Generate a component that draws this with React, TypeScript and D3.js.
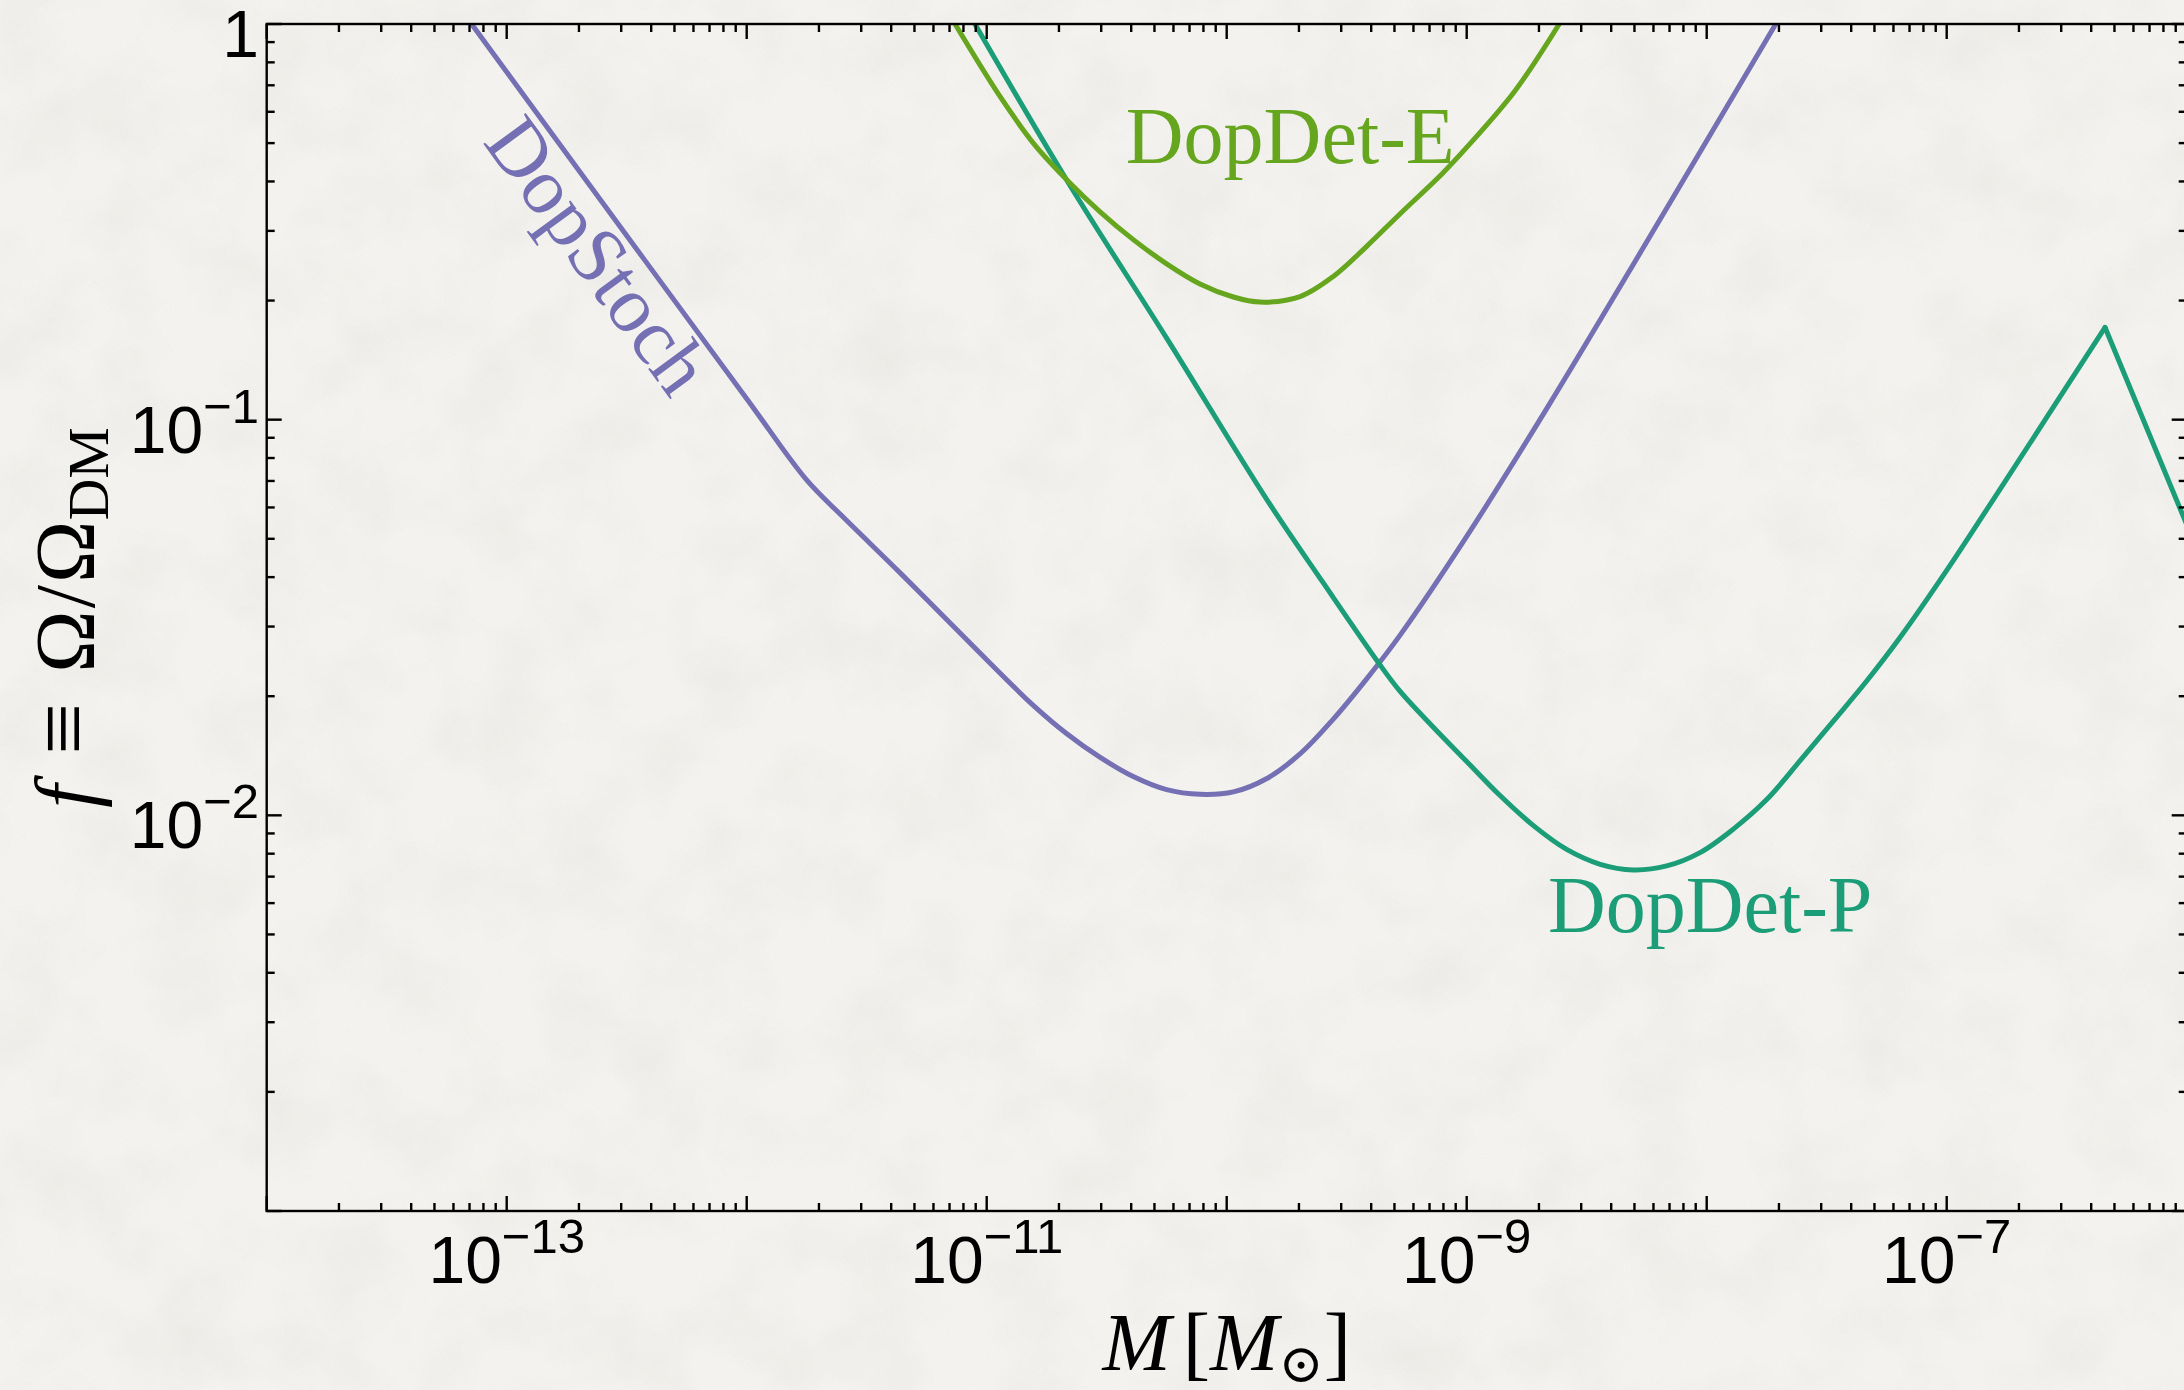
import React, { useEffect } from "react";
import * as d3 from "d3";

const WIDTH = 2184;
const HEIGHT = 1390;

// Plot frame (pixels)
const PLOT_LEFT = 266.7;
const PLOT_TOP = 24;
const PLOT_RIGHT = 2186.7;
const PLOT_BOTTOM = 1211;

// Axis extents
const massDomain: [number, number] = [1e-14, 1e-6];
const fractionDomain: [number, number] = [1e-3, 1];

// DopStoch limit: mass M [solar masses] and f = Omega / Omega_DM
const dopStochM = [
  7.14e-14, 3.16e-13, 1.0e-12, 1.78e-12, 2.51e-12, 4.36e-12, 8.26e-12, 1.135e-11,
  1.563e-11, 2.15e-11, 2.96e-11, 4.08e-11, 5.62e-11, 7.74e-11, 1.066e-10, 1.47e-10,
  2.02e-10, 2.77e-10, 3.83e-10, 5.27e-10, 1.0e-9, 2.18e-9, 1.94e-8,
];
const dopStochF = [
  1.0, 0.292, 0.113, 0.0703, 0.0569, 0.041, 0.0278, 0.0229,
  0.01897, 0.0161, 0.01403, 0.01253, 0.01161, 0.0113, 0.01146, 0.01239,
  0.01429, 0.01746, 0.02213, 0.0285, 0.0507, 0.1079, 1.0,
];

// DopDet-P limit
const dopDetPM = [
  8.93e-12, 2.15e-11, 5.62e-11, 1.47e-10, 2.51e-10, 4.29e-10, 5.27e-10, 7.26e-10,
  1.0e-9, 1.377e-9, 1.897e-9, 2.61e-9, 3.6e-9, 4.94e-9, 6.81e-9, 9.38e-9,
  1.291e-8, 1.778e-8, 2.45e-8, 3.37e-8, 4.65e-8, 6.4e-8, 1.0e-7, 1.667e-7,
  4.57e-7, 1.0e-6,
];
const dopDetPF = [
  1.0, 0.404, 0.1607, 0.0628, 0.0389, 0.0243, 0.0206, 0.0167,
  0.01368, 0.01122, 0.00942, 0.0082, 0.00752, 0.00728, 0.00745, 0.00805,
  0.00923, 0.01096, 0.01374, 0.0173, 0.02188, 0.02818, 0.04159, 0.06668,
  0.171, 0.0543,
];

// DopDet-E limit
const dopDetEM = [
  7.38e-12, 1.138e-11, 1.585e-11, 2.19e-11, 2.96e-11, 4.08e-11, 5.62e-11, 7.74e-11,
  1.066e-10, 1.377e-10, 2.02e-10, 2.78e-10, 3.83e-10, 5.27e-10, 7.94e-10, 1.0e-9,
  1.585e-9, 2.43e-9,
];
const dopDetEF = [
  1.0, 0.655, 0.495, 0.4, 0.3357, 0.2851, 0.2477, 0.2203,
  0.2042, 0.1982, 0.2046, 0.2301, 0.2742, 0.3311, 0.4198, 0.4875,
  0.6761, 1.0,
];

// Labelled decades
const xLabelExponents = [-13, -11, -9, -7];
const yLabelExponents = [0, -1, -2];

// Curve names and where their labels sit (M, f, rotation in degrees)
const curveNames = ["DopStoch", "DopDet-P", "DopDet-E"];
const curveColors = ["#7570b3", "#1b9e77", "#66a61e"];
const labelAnchorM = [7.89e-14, 2.18e-9, 3.8e-11];
const labelAnchorF = [0.5035, 0.00507, 0.4457];
const labelAngle = [53.8, 0, 0];

const SANS = "'Liberation Sans', Arial, Helvetica, sans-serif";
const SERIF = "'Liberation Serif', 'Times New Roman', 'DejaVu Serif', serif";

const zip = (xs: number[], ys: number[]): [number, number][] =>
  xs.map((x, i) => [x, ys[i]] as [number, number]);

const isDecade = (v: number) => Math.abs(Math.log10(v) - Math.round(Math.log10(v))) < 1e-6;

const minus = (n: number) => (n < 0 ? "\u2212" + Math.abs(n) : String(n));

export default function App() {
  useEffect(() => {
    document.body.style.margin = "0";
    document.body.style.overflow = "hidden";
  }, []);

  const x = d3.scaleLog().domain(massDomain).range([PLOT_LEFT, PLOT_RIGHT]);
  const y = d3.scaleLog().domain(fractionDomain).range([PLOT_BOTTOM, PLOT_TOP]);

  const line = d3
    .line<[number, number]>()
    .x((d) => x(d[0]))
    .y((d) => y(d[1]))
    .curve(d3.curveCatmullRom.alpha(0.5));

  const stoch = zip(dopStochM, dopStochF);
  const detP = zip(dopDetPM, dopDetPF);
  const detE = zip(dopDetEM, dopDetEF);

  // DopDet-P has a cusp; draw each side of it separately so it stays sharp
  let cusp = detP.length - 1;
  for (let i = 1; i < detP.length - 1; i++) {
    if (detP[i][1] > detP[i - 1][1] && detP[i][1] > detP[i + 1][1]) cusp = i;
  }
  const paths: { d: string; color: string }[] = [
    { d: line(stoch) || "", color: curveColors[0] },
    { d: line(detP.slice(0, cusp + 1)) || "", color: curveColors[1] },
    { d: line(detP.slice(cusp)) || "", color: curveColors[1] },
    { d: line(detE) || "", color: curveColors[2] },
  ];

  const xTicks = x.ticks();
  const yTicks = y.ticks();
  const MAJOR = 15;
  const MINOR = 8;
  const axisStroke = 2.4;

  return (
    <svg
      width={WIDTH}
      height={HEIGHT}
      viewBox={`0 0 ${WIDTH} ${HEIGHT}`}
      style={{ display: "block" }}
    >
      <defs>
        <filter id="paper" x="0" y="0" width="100%" height="100%">
          <feTurbulence type="fractalNoise" baseFrequency="0.013" numOctaves="4" seed="11" result="n" />
          <feColorMatrix
            in="n"
            type="matrix"
            values="0 0 0 0 0.55  0 0 0 0 0.55  0 0 0 0 0.52  0.26 0 0 0 -0.1"
          />
        </filter>
        <filter id="grain" x="0" y="0" width="100%" height="100%">
          <feTurbulence type="fractalNoise" baseFrequency="0.7" numOctaves="2" seed="3" result="g" />
          <feColorMatrix
            in="g"
            type="matrix"
            values="0 0 0 0 0.5  0 0 0 0 0.5  0 0 0 0 0.48  0.12 0 0 0 -0.04"
          />
        </filter>
        <clipPath id="plotClip">
          <rect x={PLOT_LEFT} y={PLOT_TOP} width={PLOT_RIGHT - PLOT_LEFT} height={PLOT_BOTTOM - PLOT_TOP} />
        </clipPath>
      </defs>

      {/* paper background */}
      <rect x={0} y={0} width={WIDTH} height={HEIGHT} fill="#f4f3ef" />
      <rect x={0} y={0} width={WIDTH} height={HEIGHT} filter="url(#paper)" />
      <rect x={0} y={0} width={WIDTH} height={HEIGHT} filter="url(#grain)" />

      {/* curves */}
      <g clipPath="url(#plotClip)" fill="none" strokeWidth={5} strokeLinejoin="round" strokeLinecap="round">
        {paths.map((p, i) => (
          <path key={i} d={p.d} stroke={p.color} />
        ))}
      </g>

      {/* curve labels */}
      {curveNames.map((name, i) => (
        <text
          key={name}
          transform={`translate(${x(labelAnchorM[i])},${y(labelAnchorF[i])}) rotate(${labelAngle[i]})`}
          fontFamily={SERIF}
          fontSize={80}
          fill={curveColors[i]}
        >
          {name}
        </text>
      ))}

      {/* frame */}
      <g stroke="#000" strokeWidth={axisStroke} fill="none">
        <rect x={PLOT_LEFT} y={PLOT_TOP} width={PLOT_RIGHT - PLOT_LEFT} height={PLOT_BOTTOM - PLOT_TOP} />
        {xTicks.map((t, i) => {
          const len = isDecade(t) ? MAJOR : MINOR;
          const px = x(t);
          return (
            <g key={"x" + i}>
              <line x1={px} x2={px} y1={PLOT_BOTTOM} y2={PLOT_BOTTOM - len} />
              <line x1={px} x2={px} y1={PLOT_TOP} y2={PLOT_TOP + len} />
            </g>
          );
        })}
        {yTicks.map((t, i) => {
          const len = isDecade(t) ? MAJOR : MINOR;
          const py = y(t);
          return (
            <g key={"y" + i}>
              <line x1={PLOT_LEFT} x2={PLOT_LEFT + len} y1={py} y2={py} />
              <line x1={PLOT_RIGHT} x2={PLOT_RIGHT - len} y1={py} y2={py} />
            </g>
          );
        })}
      </g>

      {/* x tick labels */}
      {xLabelExponents.map((e) => (
        <text
          key={"xl" + e}
          x={x(Math.pow(10, e))}
          y={PLOT_BOTTOM + 72}
          textAnchor="middle"
          fontFamily={SANS}
          fontSize={66}
          fill="#000"
        >
          10
          <tspan fontSize={49} dy={-30}>
            {minus(e)}
          </tspan>
        </text>
      ))}

      {/* y tick labels */}
      {yLabelExponents.map((e) => (
        <text
          key={"yl" + e}
          x={259}
          y={y(Math.pow(10, e)) + 33}
          textAnchor="end"
          fontFamily={SANS}
          fontSize={66}
          fill="#000"
        >
          {e === 0 ? (
            "1"
          ) : (
            <>
              10
              <tspan fontSize={49} dy={-30}>
                {minus(e)}
              </tspan>
            </>
          )}
        </text>
      ))}

      {/* x axis title */}
      <text
        x={(PLOT_LEFT + PLOT_RIGHT) / 2}
        y={1370}
        textAnchor="middle"
        fontFamily={SERIF}
        fontSize={82}
        fill="#000"
      >
        <tspan fontStyle="italic">M</tspan>
        <tspan dx={12}>[</tspan>
        <tspan fontStyle="italic">M</tspan>
        <tspan fontSize={54} dy={12}>{"\u2299"}</tspan>
        <tspan dy={-12}>]</tspan>
      </text>

      {/* y axis title */}
      <text
        transform={`translate(94,${(PLOT_TOP + PLOT_BOTTOM) / 2}) rotate(-90)`}
        textAnchor="middle"
        fontFamily={SERIF}
        fontSize={84}
        fill="#000"
      >
        <tspan fontStyle="italic">f</tspan>
        <tspan dx={30} fontSize={92}>{"\u2261"}</tspan>
        <tspan dx={30}>{"\u03A9"}</tspan>
        <tspan dx={2}>/</tspan>
        <tspan dx={2}>{"\u03A9"}</tspan>
        <tspan fontSize={58} dy={14}>DM</tspan>
      </text>
    </svg>
  );
}
